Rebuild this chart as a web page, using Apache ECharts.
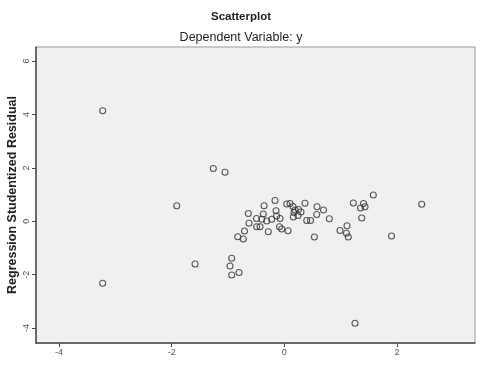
<!DOCTYPE html>
<html>
<head>
<meta charset="utf-8">
<script src="https://cdn.jsdelivr.net/npm/echarts@6/dist/echarts.min.js"></script>
<style>html,body{margin:0;padding:0;background:#fff}#c{width:483px;height:367px}</style>
</head>
<body>
<div id="c"></div>
<script>
// Standardized predicted value (x) vs studentized residual (y)
const predicted = [
  -3.224, -3.224, -1.260, -1.053, -1.910, -1.585, -0.934, -0.964, -0.804, -0.934,
  -0.827, -0.728, -0.707, -0.639, -0.627, -0.494, -0.490, -0.431, -0.401, -0.360,
  -0.373, -0.312, -0.284, -0.224, -0.165, -0.147, -0.138, -0.076, -0.085, -0.046,
  0.066, 0.043, 0.101, 0.154, 0.190, 0.252, 0.172, 0.296, 0.243, 0.160,
  0.367, 0.581, 0.696, 0.575, 0.799, 0.398, 0.465, 0.533, 0.989, 1.113,
  1.104, 1.136, 1.225, 1.406, 1.433, 1.353, 1.374, 1.580, 1.903, 2.439,
  1.255
];
const residual = [
  4.142, -2.322, 1.978, 1.835, 0.584, -1.599, -1.386, -1.674, -1.918, -2.011,
  -0.577, -0.663, -0.363, 0.292, -0.075, 0.105, -0.202, -0.202, 0.075, 0.584,
  0.273, 0.011, -0.390, 0.075, 0.779, 0.397, 0.199, 0.105, -0.202, -0.288,
  -0.352, 0.648, 0.667, 0.554, 0.423, 0.442, 0.330, 0.348, 0.217, 0.161,
  0.674, 0.547, 0.423, 0.255, 0.097, 0.030, 0.030, -0.588, -0.345, -0.169,
  -0.449, -0.588, 0.685, 0.667, 0.547, 0.498, 0.124, 0.985, -0.551, 0.637,
  -3.820
];
const xTicks = [-4, -2, 0, 2];
const yTicks = [-4, -2, 0, 2, 4, 6];

const points = predicted.map((x, i) => [x, residual[i]]);

const chart = echarts.init(document.getElementById('c'));
const axisCol = '#4a4a4a';
const labelCol = '#555';
const font = 'Arial, Liberation Sans, sans-serif';
chart.setOption({
  backgroundColor: '#ffffff',
  animation: false,
  title: [
    { text: 'Scatterplot', left: 236, top: 6, textAlign: 'center',
      textStyle: { fontFamily: font, fontSize: 11.5, fontWeight: 'bold', color: '#222' } },
    { text: 'Dependent Variable: y', left: 236, top: 26, textAlign: 'center',
      textStyle: { fontFamily: font, fontSize: 12.5, fontWeight: 'normal', color: '#222' } }
  ],
  grid: {
    left: 36, right: 8, top: 47, bottom: 24,
    outerBoundsMode: 'none', containLabel: false,
    show: true, backgroundColor: '#f0f0f0', borderColor: '#9a9a9a', borderWidth: 1
  },
  xAxis: {
    type: 'value', min: -4.408, max: 3.385,
    splitLine: { show: false },
    axisLine: { show: true, onZero: false, lineStyle: { color: axisCol, width: 1.5 } },
    axisTick: { show: true, length: 4, customValues: xTicks, lineStyle: { color: axisCol } },
    axisLabel: { customValues: xTicks, fontSize: 9, color: labelCol, margin: 5, fontFamily: font }
  },
  yAxis: {
    type: 'value', min: -4.558, max: 6.528,
    name: 'Regression Studentized Residual', nameLocation: 'middle', nameGap: 17,
    nameRotate: 90, nameMoveOverlap: false,
    nameTextStyle: { fontFamily: font, fontSize: 12.5, fontWeight: 'bold', color: '#222' },
    splitLine: { show: false },
    axisLine: { show: true, onZero: false, lineStyle: { color: axisCol, width: 1.5 } },
    axisTick: { show: true, length: 4, customValues: yTicks, lineStyle: { color: axisCol } },
    axisLabel: { customValues: yTicks, fontSize: 9, color: labelCol, margin: 5, rotate: 90, fontFamily: font }
  },
  series: [{
    type: 'scatter',
    data: points,
    symbol: 'circle',
    symbolSize: 6,
    itemStyle: { color: 'rgba(0,0,0,0)', borderColor: '#333', borderWidth: 1.1 }
  }]
});
</script>
</body>
</html>
